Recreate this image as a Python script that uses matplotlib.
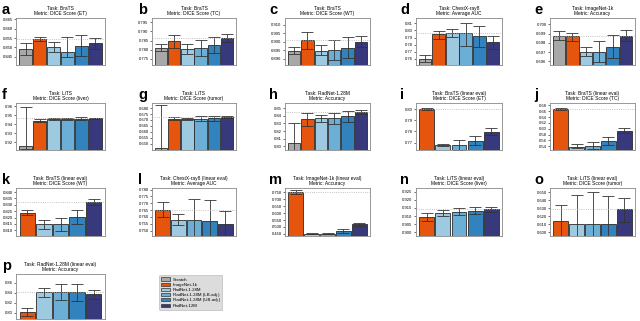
import matplotlib
matplotlib.use('Agg')
import matplotlib.pyplot as plt
from matplotlib.patches import Patch

plt.rcParams['font.family'] = ['Liberation Sans', 'DejaVu Sans']

methods = ['Scratch', 'ImageNet-1k', 'RadNet-1.28M', 'RadNet-1.28M (LB-adj.)',
           'RadNet-1.28M (UB-adj.)', 'RadNet-12M']
colors = ['#a8a8a8', '#e6550d', '#9ecae1', '#6baed6', '#3182bd', '#38397c']

# ---- data (mean, lower CI, upper CI) ----
a_mean = [0.8494, 0.8546, 0.8500, 0.8475, 0.8508, 0.8521]
a_lo = [0.8462, 0.8535, 0.8477, 0.8450, 0.8454, 0.8494]
a_hi = [0.8524, 0.8556, 0.8530, 0.8556, 0.8567, 0.8551]
a_ticks = [0.845, 0.850, 0.855, 0.860, 0.865]

b_mean = [0.7810, 0.7847, 0.7802, 0.7810, 0.7827, 0.7862]
b_lo = [0.7791, 0.7810, 0.7778, 0.7765, 0.7780, 0.7840]
b_hi = [0.7830, 0.7883, 0.7834, 0.7851, 0.7872, 0.7886]
b_ticks = [0.775, 0.780, 0.785, 0.790, 0.795]

c_mean = [0.8948, 0.9008, 0.8946, 0.8950, 0.8966, 0.9000]
c_lo = [0.8926, 0.8956, 0.8924, 0.8894, 0.8906, 0.8970]
c_hi = [0.8970, 0.9058, 0.8980, 0.9010, 0.9030, 0.9034]
c_ticks = [0.890, 0.895, 0.900, 0.905, 0.910]

d_mean = [0.7595, 0.7944, 0.7963, 0.7963, 0.7916, 0.7831]
d_lo = [0.7558, 0.7878, 0.7902, 0.7775, 0.7765, 0.7746]
d_hi = [0.7652, 0.7992, 0.8025, 0.8105, 0.8067, 0.7921]
d_ticks = [0.76, 0.77, 0.78, 0.79, 0.80, 0.81]

e_mean = [0.6988, 0.6987, 0.6970, 0.6970, 0.6976, 0.6988]
e_lo = [0.6983, 0.6982, 0.6966, 0.6959, 0.6964, 0.6982]
e_hi = [0.6993, 0.6991, 0.6975, 0.6982, 0.6989, 0.6994]
e_ticks = [0.696, 0.697, 0.698, 0.699, 0.700]

f_mean = [0.9163, 0.9439, 0.9458, 0.9458, 0.9458, 0.9465]
f_lo = [0.9120, 0.9428, 0.9447, 0.9443, 0.9443, 0.9458]
f_hi = [0.9589, 0.9458, 0.9465, 0.9469, 0.9477, 0.9469]
f_ticks = [0.92, 0.93, 0.94, 0.95, 0.96]

g_mean = [0.6463, 0.6710, 0.6710, 0.6707, 0.6713, 0.6721]
g_lo = [0.6440, 0.6704, 0.6702, 0.6688, 0.6693, 0.6713]
g_hi = [0.6828, 0.6721, 0.6719, 0.6730, 0.6735, 0.6730]
g_ticks = [0.650, 0.655, 0.660, 0.665, 0.670, 0.675, 0.680]

h_mean = [0.8049, 0.8353, 0.8366, 0.8366, 0.8397, 0.8451]
h_lo = [0.7900, 0.8272, 0.8317, 0.8295, 0.8321, 0.8429]
h_hi = [0.8308, 0.8433, 0.8411, 0.8433, 0.8464, 0.8478]
h_ticks = [0.80, 0.81, 0.82, 0.83, 0.84, 0.85]

i_mean = [0.7997, 0.7679, 0.7679, 0.7718, 0.7799]
i_lo = [0.7991, 0.7670, 0.7637, 0.7679, 0.7772]
i_hi = [0.8006, 0.7685, 0.7721, 0.7760, 0.7829]
i_ticks = [0.77, 0.78, 0.79, 0.80]

j_mean = [0.6687, 0.5388, 0.5410, 0.5580, 0.5919]
j_lo = [0.6653, 0.5342, 0.5320, 0.5433, 0.5840]
j_hi = [0.6721, 0.5467, 0.5546, 0.5727, 0.6009]
j_ticks = [0.54, 0.56, 0.58, 0.60, 0.62, 0.64, 0.66, 0.68]

k_mean = [0.8239, 0.8147, 0.8147, 0.8203, 0.8321]
k_lo = [0.8221, 0.8108, 0.8097, 0.8150, 0.8300]
k_hi = [0.8261, 0.8182, 0.8200, 0.8261, 0.8342]
k_ticks = [0.810, 0.815, 0.820, 0.825, 0.830, 0.835, 0.840]

l_mean = [0.7652, 0.7578, 0.7578, 0.7568, 0.7549]
l_lo = [0.7598, 0.7539, 0.7430, 0.7430, 0.7440]
l_hi = [0.7706, 0.7620, 0.7731, 0.7724, 0.7640]
l_ticks = [0.750, 0.755, 0.760, 0.765, 0.770, 0.775, 0.780]

m_mean = [0.752, 0.450, 0.453, 0.471, 0.518]
m_lo = [0.741, 0.446, 0.449, 0.460, 0.507]
m_hi = [0.763, 0.454, 0.457, 0.482, 0.532]
m_ticks = [0.45, 0.50, 0.55, 0.60, 0.65, 0.70, 0.75]

n_mean = [0.9094, 0.9119, 0.9128, 0.9134, 0.9141]
n_lo = [0.9069, 0.9100, 0.9106, 0.9113, 0.9125]
n_hi = [0.9119, 0.9138, 0.9150, 0.9156, 0.9156]
n_ticks = [0.900, 0.905, 0.910, 0.915, 0.920, 0.925]

o_mean = [0.6138, 0.6100, 0.6100, 0.6100, 0.6288]
o_lo = [0.5930, 0.5900, 0.5900, 0.5900, 0.6125]
o_hi = [0.6338, 0.6463, 0.6500, 0.6450, 0.6425]
o_ticks = [0.60, 0.61, 0.62, 0.63, 0.64, 0.65]

p_mean = [0.8026, 0.842, 0.842, 0.842, 0.8386]
p_lo = [0.794, 0.832, 0.826, 0.824, 0.8286]
p_hi = [0.810, 0.850, 0.858, 0.858, 0.846]
p_ticks = [0.80, 0.82, 0.84, 0.86]

titles = {
    'a': 'Task: BraTS\nMetric: DICE Score (ET)',
    'b': 'Task: BraTS\nMetric: DICE Score (TC)',
    'c': 'Task: BraTS\nMetric: DICE Score (WT)',
    'd': 'Task: ChestX-ray8\nMetric: Average AUC',
    'e': 'Task: ImageNet-1k\nMetric: Accuracy',
    'f': 'Task: LiTS\nMetric: DICE Score (liver)',
    'g': 'Task: LiTS\nMetric: DICE Score (tumor)',
    'h': 'Task: RadNet-1.28M\nMetric: Accuracy',
    'i': 'Task: BraTS (linear eval)\nMetric: DICE Score (ET)',
    'j': 'Task: BraTS (linear eval)\nMetric: DICE Score (TC)',
    'k': 'Task: BraTS (linear eval)\nMetric: DICE Score (WT)',
    'l': 'Task: ChestX-ray8 (linear eval)\nMetric: Average AUC',
    'm': 'Task: ImageNet-1k (linear eval)\nMetric: Accuracy',
    'n': 'Task: LiTS (linear eval)\nMetric: DICE Score (liver)',
    'o': 'Task: LiTS (linear eval)\nMetric: DICE Score (tumor)',
    'p': 'Task: RadNet-1.28M (linear eval)\nMetric: Accuracy',
}

panels = {
    'a': (a_mean, a_lo, a_hi, a_ticks, (0.8406, 0.8657), '{:.3f}'),
    'b': (b_mean, b_lo, b_hi, b_ticks, (0.7716, 0.7974), '{:.3f}'),
    'c': (c_mean, c_lo, c_hi, c_ticks, (0.8864, 0.9140), '{:.3f}'),
    'd': (d_mean, d_lo, d_hi, d_ticks, (0.7515, 0.8175), '{:.2f}'),
    'e': (e_mean, e_lo, e_hi, e_ticks, (0.6956, 0.7007), '{:.3f}'),
    'f': (f_mean, f_lo, f_hi, f_ticks, (0.9114, 0.9637), '{:.2f}'),
    'g': (g_mean, g_lo, g_hi, g_ticks, (0.6449, 0.6842), '{:.3f}'),
    'h': (h_mean, h_lo, h_hi, h_ticks, (0.7951, 0.8567), '{:.2f}'),
    'i': (i_mean, i_lo, i_hi, i_ticks, (0.7634, 0.8054), '{:.2f}'),
    'j': (j_mean, j_lo, j_hi, j_ticks, (0.5275, 0.6879), '{:.2f}'),
    'k': (k_mean, k_lo, k_hi, k_ticks, (0.8055, 0.8432), '{:.3f}'),
    'l': (l_mean, l_lo, l_hi, l_ticks, (0.7460, 0.7812), '{:.3f}'),
    'm': (m_mean, m_lo, m_hi, m_ticks, (0.435, 0.781), '{:.3f}'),
    'n': (n_mean, n_lo, n_hi, n_ticks, (0.8975, 0.9275), '{:.3f}'),
    'o': (o_mean, o_lo, o_hi, o_ticks, (0.595, 0.655), '{:.3f}'),
    'p': (p_mean, p_lo, p_hi, p_ticks, (0.788, 0.8774), '{:.2f}'),
}

W, H = 640, 321
fig = plt.figure(figsize=(6.4, 3.21), dpi=100)

col_l = [16, 152, 285, 416, 550]
col_r = [105, 236, 370, 502, 635]
row_t = [18, 103, 188, 274]
row_b = [65, 150, 236, 319]
letter_dx = [-14, -14, -16, -16, -16]

order = list('abcdefghijklmnop')
for idx, key in enumerate(order):
    r, c = divmod(idx, 5)
    l, rr = col_l[c], col_r[c]
    t, b = row_t[r], row_b[r]
    ax = fig.add_axes([l / W, 1 - b / H, (rr - l) / W, (b - t) / H])
    mean, lo, hi, ticks, ylim, fmt = panels[key]
    n = len(mean)
    cols = colors if n == 6 else colors[1:]
    xs = list(range(n))
    ax.bar(xs, mean, width=0.93, color=cols, edgecolor='#2a2a2a', linewidth=0.6)
    yerr = [[m - l_ for m, l_ in zip(mean, lo)], [h_ - m for m, h_ in zip(mean, hi)]]
    ax.errorbar(xs, mean, yerr=yerr, fmt='none', ecolor='#333333',
                elinewidth=0.6, capsize=4, capthick=0.6)
    ax.axhline(max(mean), color='#b0b0b0', linestyle=':', linewidth=0.6)
    ax.set_xlim(-0.68, n - 1 + 0.68)
    ax.set_ylim(*ylim)
    ax.set_yticks(ticks)
    ax.set_yticklabels([fmt.format(v) for v in ticks])
    ax.set_xticks([])
    ax.tick_params(axis='y', labelsize=3, length=1.5, width=0.4, pad=1)
    for sp in ax.spines.values():
        sp.set_color('#888888')
        sp.set_linewidth(0.6)
    ax.set_title(titles[key], fontsize=3.5, pad=2, linespacing=1.1)
    fig.text((l + letter_dx[c]) / W, 1 - (t - 15) / H, key, fontsize=10.5,
             fontweight='bold', va='top', ha='left')

handles = [Patch(facecolor=cc, edgecolor='#333333', linewidth=0.5) for cc in colors]
leg = fig.legend(handles, methods, loc='upper left', bbox_to_anchor=(157 / W, 1 - 273 / H),
                 fontsize=3.2, frameon=True, fancybox=True, handlelength=2.0,
                 handleheight=0.7, borderpad=0.5, labelspacing=0.25, handletextpad=0.6)
leg.get_frame().set_facecolor('#d4d4d4')
leg.get_frame().set_edgecolor('#b0b0b0')
leg.get_frame().set_linewidth(0.5)

fig.savefig('out.png', dpi=100)
